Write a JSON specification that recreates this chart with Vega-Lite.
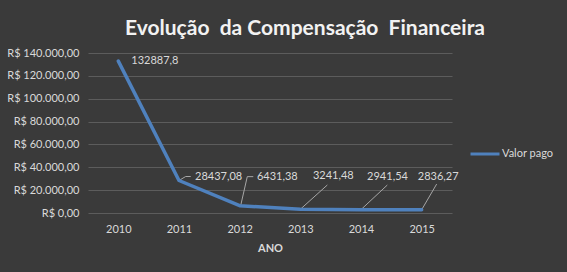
{
  "$schema": "https://vega.github.io/schema/vega-lite/v6.json",
  "width": 364,
  "height": 160,
  "autosize": {"type": "none"},
  "padding": {"left": 88, "top": 53, "right": 115, "bottom": 59},
  "background": "#3a3a3a",
  "config": {
    "locale": {
      "number": {"decimal": ",", "thousands": ".", "grouping": [3], "currency": ["R$ ", ""]}
    },
    "view": {"stroke": null},
    "font": "Lato",
    "text": {"font": "Lato", "fontSize": 11, "color": "#d9d9d9"}
  },
  "title": {
    "text": "Evolução \u00a0da Compensação \u00a0Financeira",
    "font": "Lato",
    "fontSize": 21,
    "fontWeight": "bold",
    "color": "#f2f2f2",
    "anchor": "middle",
    "frame": "group",
    "dx": 35,
    "dy": 24,
    "offset": 15,
    "baseline": "alphabetic"
  },
  "data": {
    "values": [
      {"ano": "2010", "valor": 132887.8, "serie": "Valor pago"},
      {"ano": "2011", "valor": 28437.08, "serie": "Valor pago"},
      {"ano": "2012", "valor": 6431.38, "serie": "Valor pago"},
      {"ano": "2013", "valor": 3241.48, "serie": "Valor pago"},
      {"ano": "2014", "valor": 2941.54, "serie": "Valor pago"},
      {"ano": "2015", "valor": 2836.27, "serie": "Valor pago"}
    ]
  },
  "encoding": {
    "x": {
      "field": "ano",
      "type": "ordinal",
      "scale": {"type": "point", "padding": 0.5},
      "axis": {
        "title": "ANO",
        "titleFont": "Lato",
        "titleFontSize": 11,
        "titleFontWeight": "bold",
        "titleColor": "#d9d9d9",
        "titlePadding": 8,
        "labelAngle": 0,
        "labelFont": "Lato",
        "labelFontSize": 11,
        "labelColor": "#d9d9d9",
        "labelPadding": 10,
        "domain": false,
        "ticks": false,
        "grid": false
      }
    },
    "y": {
      "field": "valor",
      "type": "quantitative",
      "scale": {"domain": [0, 140000]},
      "axis": {
        "title": null,
        "values": [0, 20000, 40000, 60000, 80000, 100000, 120000, 140000],
        "format": "$,.2f",
        "labelFont": "Lato",
        "labelFontSize": 11,
        "labelColor": "#d9d9d9",
        "labelPadding": 9,
        "domain": false,
        "ticks": false,
        "grid": true,
        "gridColor": "#5c5c5c",
        "gridWidth": 1
      }
    }
  },
  "layer": [
    {
      "transform": [{"filter": "datum.ano == '2011'"}],
      "mark": {"type": "rule", "stroke": "#a6a6a6", "strokeWidth": 1, "x2Offset": 6.7, "y2Offset": -4},
      "encoding": {"x2": {"field": "ano"}, "y2": {"field": "valor"}}
    },
    {
      "transform": [{"filter": "datum.ano == '2011'"}],
      "mark": {"type": "rule", "stroke": "#a6a6a6", "strokeWidth": 1, "xOffset": 6.7, "x2Offset": 11.7, "yOffset": -4, "y2Offset": -4},
      "encoding": {"x2": {"field": "ano"}, "y2": {"field": "valor"}}
    },
    {
      "transform": [{"filter": "datum.ano == '2012'"}],
      "mark": {"type": "rule", "stroke": "#a6a6a6", "strokeWidth": 1, "xOffset": 1, "x2Offset": 7.6, "y2Offset": -29},
      "encoding": {"x2": {"field": "ano"}, "y2": {"field": "valor"}}
    },
    {
      "transform": [{"filter": "datum.ano == '2012'"}],
      "mark": {"type": "rule", "stroke": "#a6a6a6", "strokeWidth": 1, "xOffset": 7.6, "x2Offset": 13.6, "yOffset": -29, "y2Offset": -29},
      "encoding": {"x2": {"field": "ano"}, "y2": {"field": "valor"}}
    },
    {
      "transform": [{"filter": "datum.ano == '2013'"}],
      "mark": {"type": "rule", "stroke": "#a6a6a6", "strokeWidth": 1, "x2Offset": 27, "y2Offset": -24.3},
      "encoding": {"x2": {"field": "ano"}, "y2": {"field": "valor"}}
    },
    {
      "transform": [{"filter": "datum.ano == '2014'"}],
      "mark": {"type": "rule", "stroke": "#a6a6a6", "strokeWidth": 1, "x2Offset": 26.3, "y2Offset": -24.6},
      "encoding": {"x2": {"field": "ano"}, "y2": {"field": "valor"}}
    },
    {
      "transform": [{"filter": "datum.ano == '2015'"}],
      "mark": {"type": "rule", "stroke": "#a6a6a6", "strokeWidth": 1, "x2Offset": 15, "y2Offset": -25.7},
      "encoding": {"x2": {"field": "ano"}, "y2": {"field": "valor"}}
    },
    {
      "mark": {"type": "line", "strokeWidth": 3.5, "strokeCap": "round", "strokeJoin": "round"},
      "encoding": {
        "color": {
          "field": "serie",
          "type": "nominal",
          "scale": {"domain": ["Valor pago"], "range": ["#4f81bd"]},
          "legend": {
            "title": null,
            "orient": "none",
            "legendX": 381,
            "legendY": 85,
            "symbolType": "stroke",
            "symbolSize": 841,
            "symbolStrokeWidth": 3,
            "labelOffset": 1,
            "labelFont": "Lato",
            "labelFontSize": 11,
            "labelColor": "#d9d9d9",
            "padding": 0
          }
        }
      }
    },
    {
      "transform": [{"filter": "datum.ano == '2010'"}],
      "mark": {"type": "text", "align": "left", "baseline": "middle", "dx": 13, "dy": 0},
      "encoding": {"text": {"field": "valor", "type": "quantitative", "format": ".2~f"}}
    },
    {
      "transform": [{"filter": "datum.ano == '2011'"}],
      "mark": {"type": "text", "align": "left", "baseline": "middle", "dx": 16, "dy": -4},
      "encoding": {"text": {"field": "valor", "type": "quantitative", "format": ".2~f"}}
    },
    {
      "transform": [{"filter": "datum.ano == '2012'"}],
      "mark": {"type": "text", "align": "left", "baseline": "middle", "dx": 17.3, "dy": -29},
      "encoding": {"text": {"field": "valor", "type": "quantitative", "format": ".2~f"}}
    },
    {
      "transform": [{"filter": "datum.ano == '2013'"}],
      "mark": {"type": "text", "align": "center", "baseline": "middle", "dx": 33, "dy": -33},
      "encoding": {"text": {"field": "valor", "type": "quantitative", "format": ".2~f"}}
    },
    {
      "transform": [{"filter": "datum.ano == '2014'"}],
      "mark": {"type": "text", "align": "center", "baseline": "middle", "dx": 26.5, "dy": -33},
      "encoding": {"text": {"field": "valor", "type": "quantitative", "format": ".2~f"}}
    },
    {
      "transform": [{"filter": "datum.ano == '2015'"}],
      "mark": {"type": "text", "align": "center", "baseline": "middle", "dx": 16.5, "dy": -33},
      "encoding": {"text": {"field": "valor", "type": "quantitative", "format": ".2~f"}}
    }
  ]
}
